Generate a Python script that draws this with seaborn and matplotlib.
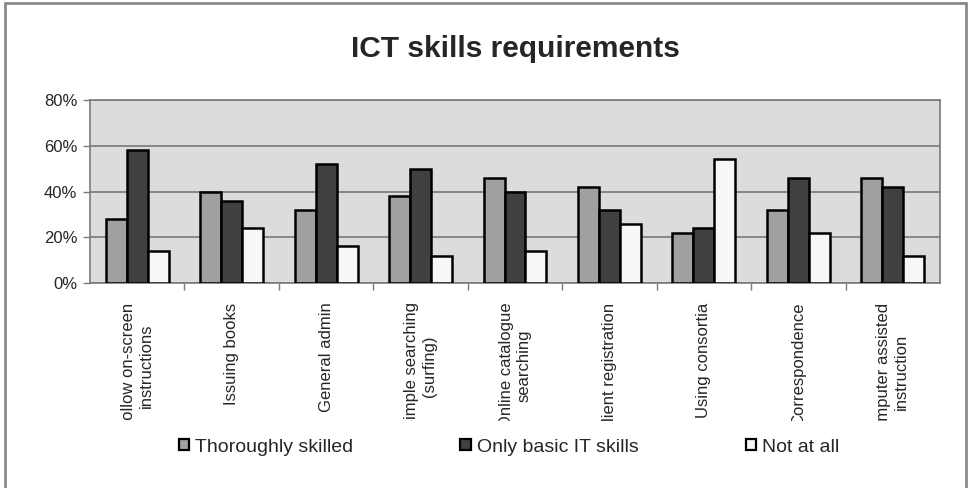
import matplotlib
matplotlib.use("Agg")
import matplotlib.pyplot as plt
import matplotlib.patches as mpatches
from matplotlib.ticker import PercentFormatter, FixedLocator
from matplotlib.transforms import Bbox, TransformedBbox
import pandas as pd
import seaborn as sns

# data (percent of respondents)
tasks = [
    "Follow on-screen\ninstructions",
    "Issuing books",
    "General admin",
    "Simple searching\n(surfing)",
    "Online catalogue\nsearching",
    "Client registration",
    "Using consortia",
    "Correspondence",
    "Computer assisted\ninstruction",
]
levels = ["Thoroughly skilled", "Only basic IT skills", "Not at all"]
thoroughly = [28, 40, 32, 38, 46, 42, 22, 32, 46]
basic_only = [58, 36, 52, 50, 40, 32, 24, 46, 42]
not_at_all = [14, 24, 16, 12, 14, 26, 54, 22, 12]

colors = {"Thoroughly skilled": "#a0a0a0",
          "Only basic IT skills": "#404040",
          "Not at all": "#f7f7f7"}

rows = []
for lvl, vals in zip(levels, [thoroughly, basic_only, not_at_all]):
    for t, v in zip(tasks, vals):
        rows.append({"task": t, "level": lvl, "share": v / 100})
df = pd.DataFrame(rows)

sns.set_style("white")
plt.rcParams["font.family"] = ["Liberation Sans", "DejaVu Sans"]

fig = plt.figure(figsize=(9.74, 4.88), dpi=100)
ax = fig.add_axes([90 / 974, 1 - 283 / 488, 850 / 974, 183 / 488])
ax.set_facecolor("#dcdcdc")

sns.barplot(data=df, x="task", y="share", hue="level", order=tasks,
            hue_order=levels, palette=colors, width=0.667, gap=0,
            edgecolor="black", linewidth=1.8, legend=False, ax=ax, zorder=3)

ax.set_ylim(0, 0.8)
ax.set_xlim(-0.5, len(tasks) - 0.5)
ax.set_yticks([0, 0.2, 0.4, 0.6, 0.8])
ax.yaxis.set_major_formatter(PercentFormatter(1.0, decimals=0))
ax.grid(axis="y", color="#707070", linewidth=1.1, zorder=0)
ax.set_axisbelow(True)
ax.set_xlabel("")
ax.set_ylabel("")

for side in ["top", "right", "left", "bottom"]:
    ax.spines[side].set_color("#7a7a7a")
    ax.spines[side].set_linewidth(1.2)

ax.tick_params(axis="y", length=5, width=1, color="#7a7a7a",
               labelsize=12, pad=4, left=True)
ax.tick_params(axis="x", which="major", length=0, labelsize=12, pad=14)
ax.xaxis.set_minor_locator(FixedLocator([i - 0.5 for i in range(1, len(tasks))]))
ax.tick_params(axis="x", which="minor", length=5, width=1, color="#7a7a7a",
               bottom=True)
ax.set_xticks(range(len(tasks)))
ax.set_xticklabels(tasks, rotation=90, ha="center", va="top",
                   multialignment="center", linespacing=1.25)

# the category labels are cut off above the legend, as in the original
clip = TransformedBbox(Bbox([[0, 1 - 421 / 488], [1, 1]]), fig.transFigure)
for lbl in ax.get_xticklabels():
    lbl.set_clip_box(clip)
    lbl.set_clip_on(True)

fig.text((90 + 940) / 2 / 974, 1 - 49 / 488, "ICT skills requirements",
         ha="center", va="center", fontsize=21.5, fontweight="bold")

handles = [mpatches.Patch(facecolor=colors[l], edgecolor="black",
                          linewidth=1.6, label=l) for l in levels]
fig.legend(handles=handles, loc="center", bbox_to_anchor=(509 / 974, 1 - 447 / 488),
           ncol=3, frameon=False, fontsize=14, handlelength=0.55,
           handleheight=0.55, handletextpad=0.3, columnspacing=5.5)

# outer chart frame
fig.patches.append(mpatches.Rectangle((5 / 974, -0.02), 961 / 974, 1.01 - 3 / 488 + 0.01,
                                      transform=fig.transFigure, fill=False,
                                      edgecolor="#8a8a8a", linewidth=2))

fig.savefig("out.png", dpi=100)
